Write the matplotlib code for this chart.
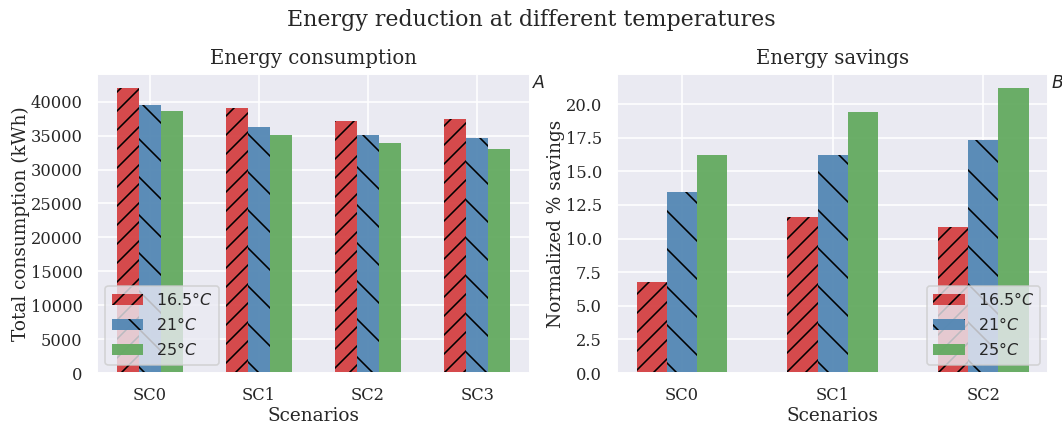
import numpy as np
import matplotlib
matplotlib.use("Agg")
import matplotlib.pyplot as plt
import seaborn as sns

scenarios_a = ["SC0", "SC1", "SC2", "SC3"]
cons_165 = [42000, 39150, 37150, 37450]
cons_21 = [39500, 36350, 35150, 34700]
cons_25 = [38700, 35150, 33850, 33050]

scenarios_b = ["SC0", "SC1", "SC2"]
save_165 = [6.77, 11.57, 10.86]
save_21 = [13.46, 16.25, 17.37]
save_25 = [16.25, 19.4, 21.19]

temps = [r"$16.5°C$", r"$21°C$", r"$25°C$"]
colors = ["#d44143", "#5387b4", "#63aa60"]
hatches = ["//", "\\", ""]

sns.set_theme(style="darkgrid")
plt.rcParams["font.family"] = "serif"
plt.rcParams["font.serif"] = ["DejaVu Serif"]
plt.rcParams["mathtext.fontset"] = "dejavusans"
plt.rcParams["hatch.color"] = "black"
plt.rcParams["patch.force_edgecolor"] = False

dpi = 114
fig = plt.figure(figsize=(1062 / dpi, 426 / dpi), dpi=dpi)
ax1 = fig.add_axes([0.0918, 0.1244, 0.4068, 0.702])
ax2 = fig.add_axes([0.581, 0.1244, 0.406, 0.702])


def grouped(ax, cats, series, ylabel, title, tag, legend_loc, xpad):
    x = np.arange(len(cats))
    w = 0.2
    for i, vals in enumerate(series):
        ax.bar(x + (i - 1) * w, vals, w, color=colors[i], alpha=0.95,
               hatch=hatches[i], label=temps[i])
    ax.set_xticks(x)
    ax.set_xticklabels(cats)
    ax.set_xlim(-xpad, len(cats) - 1 + xpad)
    ax.set_xlabel("Scenarios", fontsize=11.7, labelpad=2)
    ax.set_ylabel(ylabel, fontsize=11.7, labelpad=0.5)
    ax.set_title(title, fontsize=12.5)
    ax.tick_params(labelsize=10.3)
    ax.tick_params(axis="x", pad=3)
    ax.legend(loc=legend_loc, fontsize=10)
    ax.text(1.006, 0.995, "$" + tag + "$", transform=ax.transAxes,
            fontsize=11, ha="left", va="top")


grouped(ax1, scenarios_a, [cons_165, cons_21, cons_25],
        "Total consumption (kWh)", "Energy consumption", "A", "lower left", 0.48)
ax1.set_yticks(np.arange(0, 40001, 5000))

grouped(ax2, scenarios_b, [save_165, save_21, save_25],
        "Normalized % savings", "Energy savings", "B", "lower right", 0.43)
ax2.set_yticks(np.arange(0, 20.1, 2.5))

fig.suptitle("Energy reduction at different temperatures", fontsize=14, y=0.98)

fig.savefig("out.png", dpi=dpi)
